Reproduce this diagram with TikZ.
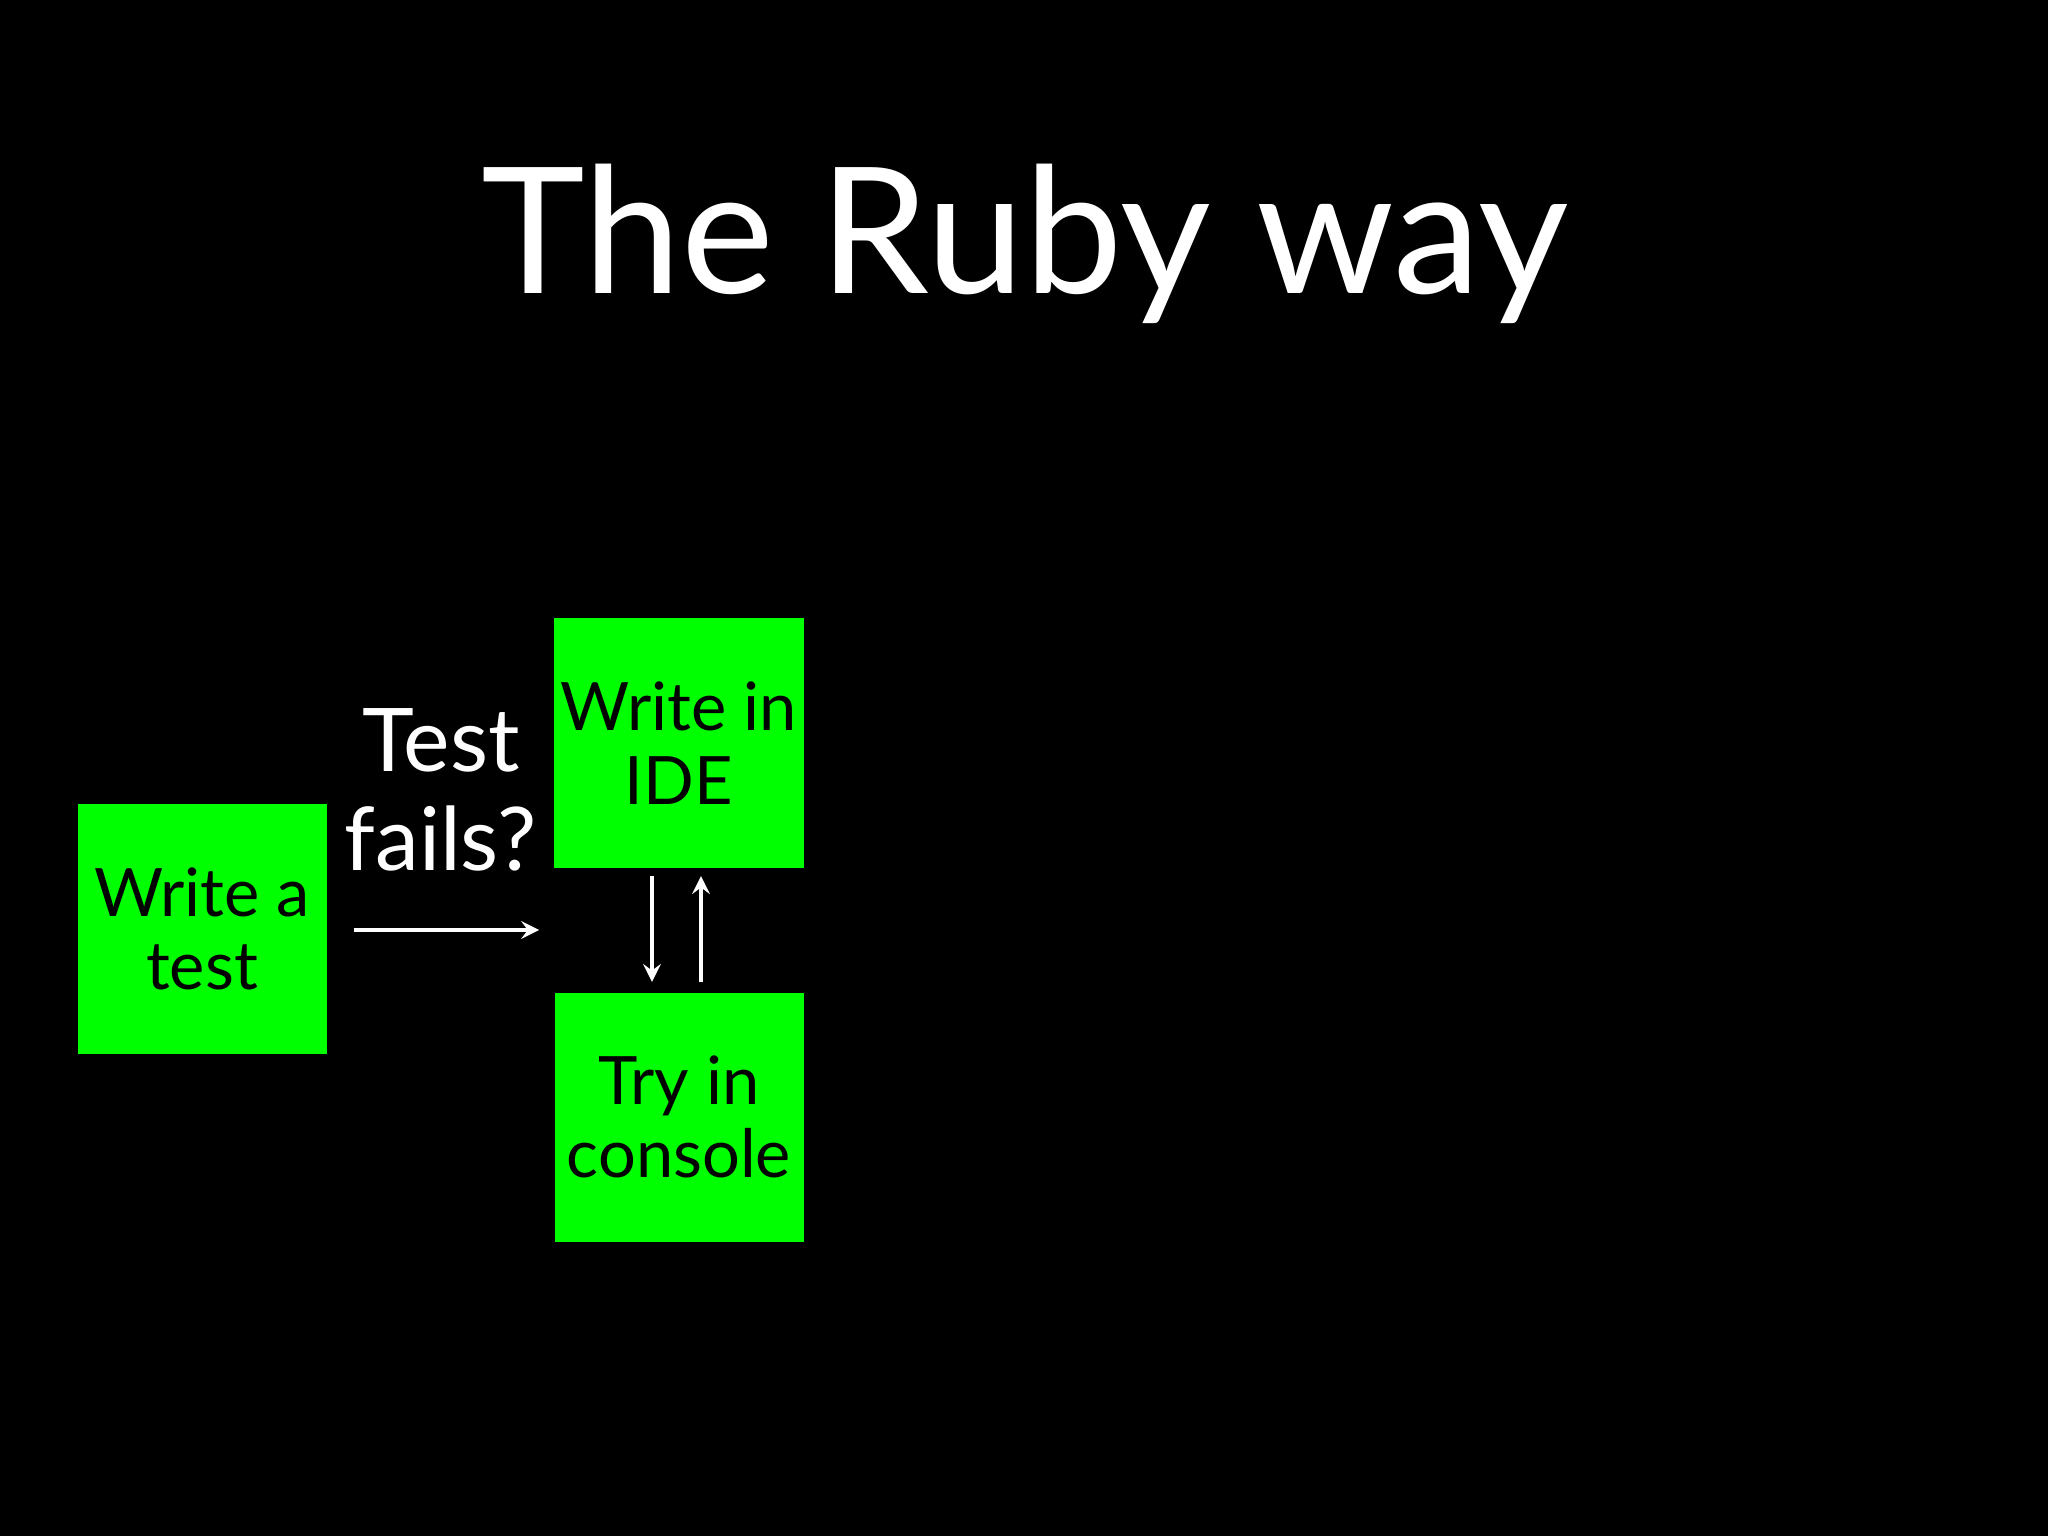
\documentclass[tikz,border=0pt]{standalone}
\usepackage{fontspec}
\setmainfont{Lato}
\usetikzlibrary{positioning}
\begin{document}
\begin{tikzpicture}[box/.style={rectangle, fill=green, draw=none, minimum size=2.49cm, inner sep=2pt, align=center, text=black, font=\fontsize{19}{21}\selectfont}]
    \tikzset{flow/.style={draw=white, line width=1.2pt, -stealth}}
    \fill[black] (0,0) rectangle (20.48,-15.36);
    \useasboundingbox (0,0) rectangle (20.48,-15.36);
    \node[text=white, anchor=base, font=\fontsize{50}{56}\selectfont] (title) at (10.25,-2.94) {The Ruby way};

    \node[box] (test) at (2.02,-9.29) {Write a\\test};
    \node[box] (ide) at (6.79,-7.43) {Write in\\IDE};
    \node[box] (con) at (6.79,-11.17) {Try in\\console};

    \coordinate (start) at (3.54,-9.30);
    \coordinate (stop) at (5.39,-9.30);
    \draw[flow] (start) -- (stop);
    \node[text=white, align=center, font=\fontsize{25}{28}\selectfont] (cond) at (4.41,-7.90) {Test\\fails?};

    \draw[flow] ([xshift=-0.27cm,yshift=-0.08cm]ide.south) -- ([xshift=-0.27cm,yshift=0.1cm]con.north);
    \draw[flow] ([xshift=0.22cm,yshift=0.1cm]con.north) -- ([xshift=0.22cm,yshift=-0.08cm]ide.south);
\end{tikzpicture}
\end{document}
